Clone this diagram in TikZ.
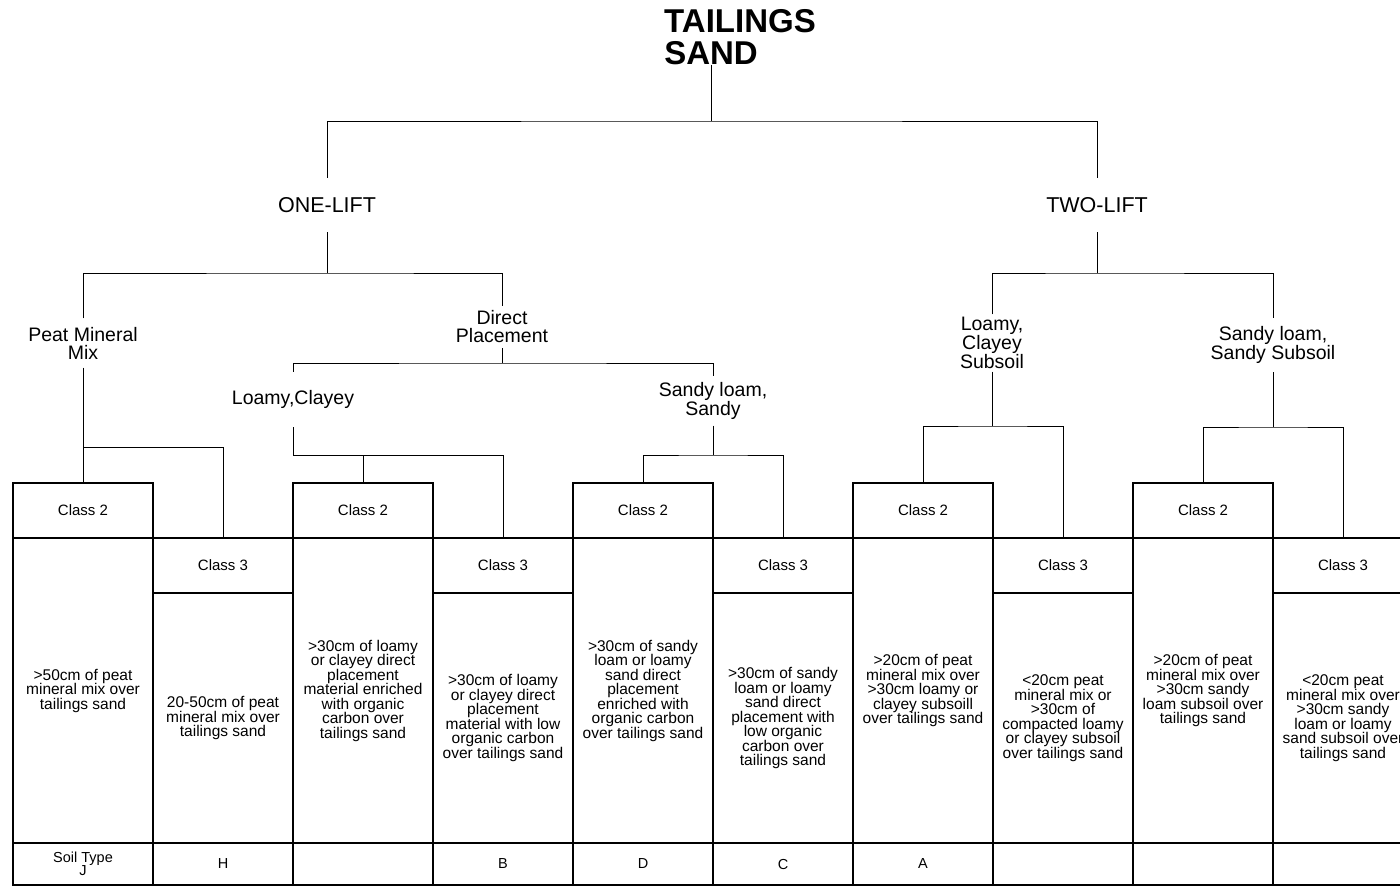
\documentclass[tikz,border=0pt]{standalone}
\usepackage{fontspec}
\setmainfont{Liberation Sans}
\begin{document}
\begin{tikzpicture}[x=1pt,y=-1pt,
  tree/.style={line width=1pt},
  box/.style={draw, line width=1.2pt, rectangle, minimum width=140pt, inner sep=0pt, align=center},
  hdr/.style={box, minimum height=55pt, font=\fontsize{15}{15}\selectfont},
  descodd/.style={box, minimum height=305pt, font=\fontsize{15.5}{14.5}\selectfont},
  desceven/.style={box, minimum height=250pt, font=\fontsize{15.5}{14.5}\selectfont},
  soil/.style={box, minimum height=42pt, font=\fontsize{14.5}{13}\selectfont},
  lbl/.style={inner sep=0pt, align=center, font=\fontsize{19.5}{18}\selectfont},
  big/.style={inner sep=0pt, font=\bfseries\fontsize{33}{33}\selectfont}]
\useasboundingbox (0,0) rectangle (1400,886);
% title
\node[big] (t1) at (740,21) {TAILINGS};
\node[big] (t2) at (711,53) {SAND};
% level 1
\node[lbl, font=\fontsize{21.5}{21}\selectfont, minimum height=54pt] (onelift) at (327,205) {ONE-LIFT};
\node[lbl, font=\fontsize{21.5}{21}\selectfont, minimum height=54pt] (twolift) at (1097,205) {TWO-LIFT};
% level 2
\node[lbl, minimum height=49pt] (pmm) at (83,343) {Peat Mineral\\Mix};
\node[lbl, minimum height=42pt] (dp) at (502,327) {Direct\\Placement};
\node[lbl, minimum height=57pt] (lcs) at (992,343) {Loamy,\\Clayey\\Subsoil};
\node[lbl, minimum height=54pt] (sss) at (1273,345) {Sandy loam,\\Sandy Subsoil};
% level 3
\node[lbl, minimum height=55pt] (lc) at (293,399.5) {Loamy,Clayey};
\node[lbl, minimum height=49pt] (sl) at (713,401) {Sandy loam,\\Sandy};
% class headers
\node[hdr] (c1) at (83,510.5) {Class 2};
\node[hdr] (c2) at (223,565.5) {Class 3};
\node[hdr] (c3) at (363,510.5) {Class 2};
\node[hdr] (c4) at (503,565.5) {Class 3};
\node[hdr] (c5) at (643,510.5) {Class 2};
\node[hdr] (c6) at (783,565.5) {Class 3};
\node[hdr] (c7) at (923,510.5) {Class 2};
\node[hdr] (c8) at (1063,565.5) {Class 3};
\node[hdr] (c9) at (1203,510.5) {Class 2};
\node[hdr] (c10) at (1343,565.5) {Class 3};
% descriptions
\node[descodd] (d1) at (83,690.5) {>50cm of peat\\mineral mix over\\tailings sand};
\node[desceven] (d2) at (223,718) {20-50cm of peat\\mineral mix over\\tailings sand};
\node[descodd] (d3) at (363,690.5) {>30cm of loamy\\or clayey direct\\placement\\material enriched\\with organic\\carbon over\\tailings sand};
\node[desceven] (d4) at (503,718) {>30cm of loamy\\or clayey direct\\placement\\material with low\\organic carbon\\over tailings sand};
\node[descodd] (d5) at (643,690.5) {>30cm of sandy\\loam or loamy\\sand direct\\placement\\enriched with\\organic carbon\\over tailings sand};
\node[desceven] (d6) at (783,718) {>30cm of sandy\\loam or loamy\\sand direct\\placement with\\low organic\\carbon over\\tailings sand};
\node[descodd] (d7) at (923,690.5) {>20cm of peat\\mineral mix over\\>30cm loamy or\\clayey subsoill\\over tailings sand};
\node[desceven] (d8) at (1063,718) {<20cm peat\\mineral mix or\\>30cm of\\compacted loamy\\or clayey subsoil\\over tailings sand};
\node[descodd] (d9) at (1203,690.5) {>20cm of peat\\mineral mix over\\>30cm sandy\\loam subsoil over\\tailings sand};
\node[desceven] (d10) at (1343,718) {<20cm peat\\mineral mix over\\>30cm sandy\\loam or loamy\\sand subsoil over\\tailings sand};
% soil types
\node[soil] (s1) at (83,864) {Soil Type\\J};
\node[soil] (s2) at (223,864) {H};
\node[soil] (s3) at (363,864) {};
\node[soil] (s4) at (503,864) {B};
\node[soil] (s5) at (643,864) {D};
\node[soil] (s6) at (783,864) {C};
\node[soil] (s7) at (923,864) {A};
\node[soil] (s8) at (1063,864) {};
\node[soil] (s9) at (1203,864) {};
\node[soil] (s10) at (1343,864) {};
% junctions
\coordinate (j0) at (711,121);
\coordinate (j1) at (327,273);
\coordinate (j2) at (502,363);
\coordinate (j3) at (293,455);
\coordinate (j3b) at (503,455);
\coordinate (j4) at (83,447);
\coordinate (j5) at (713,455);
\coordinate (j6) at (1097,273);
\coordinate (j7) at (992,426);
\coordinate (j8) at (1273,427);
% connectors
\draw[tree] (t2) -- (j0);
\draw[tree] (onelift) |- (j0) -| (twolift);
\draw[tree] (onelift) -- (j1);
\draw[tree] (pmm) |- (j1) -| (dp);
\draw[tree] (dp) -- (j2);
\draw[tree] (lc) |- (j2) -| (sl);
\draw[tree] (pmm) -- (c1);
\draw[tree] (j4) -| (c2);
\draw[tree] (lc) -- (j3) -- (j3b) -- (c4);
\draw[tree] (c3) -- (c3.north |- j3);
\draw[tree] (sl) -- (j5);
\draw[tree] (c5) |- (j5) -| (c6);
\draw[tree] (twolift) -- (j6);
\draw[tree] (lcs) |- (j6) -| (sss);
\draw[tree] (lcs) -- (j7);
\draw[tree] (c7) |- (j7) -| (c8);
\draw[tree] (sss) -- (j8);
\draw[tree] (c9) |- (j8) -| (c10);
\end{tikzpicture}
\end{document}
